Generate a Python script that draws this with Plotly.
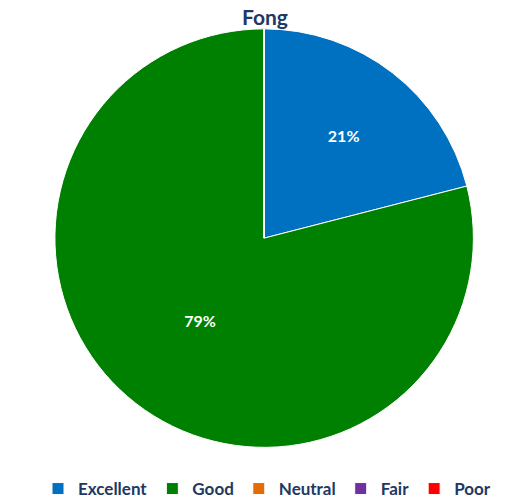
import plotly.graph_objects as go

categories = ["Excellent", "Good", "Neutral", "Fair", "Poor"]
values = [21, 79, 0, 0, 0]
colors = ["#0070C0", "#008000", "#E36C09", "#7030A0", "#FF0000"]

total = sum(values)
labels_text = [f"{round(v / total * 100)}%" if v > 0 else "" for v in values]

fig = go.Figure(
    go.Pie(
        labels=categories,
        values=values,
        text=labels_text,
        textinfo="text",
        textposition="inside",
        insidetextorientation="horizontal",
        textfont=dict(color="white", size=16, family="Lato", weight="bold"),
        marker=dict(colors=colors, line=dict(color="white", width=1)),
        sort=False,
        direction="clockwise",
        rotation=0,
        domain=dict(x=[0.089, 0.900], y=[0.116, 0.958]),
        hoverinfo="label+percent",
    )
)

fig.update_layout(
    width=518,
    height=499,
    margin=dict(l=0, r=0, t=0, b=0),
    paper_bgcolor="white",
    plot_bgcolor="white",
    title=dict(
        text="Fong",
        x=0.496,
        xanchor="center",
        y=0.995,
        yanchor="top",
        yref="container",
        pad=dict(t=0, b=0),
        font=dict(family="Lato", size=21, color="#203864", weight="bold"),
    ),
    legend=dict(
        orientation="h",
        x=0.5,
        xanchor="center",
        y=-0.005,
        yanchor="bottom",
        font=dict(family="Lato", size=17, color="#203864", weight="bold"),
        itemwidth=30,
        traceorder="normal",
    ),
    showlegend=True,
)

fig.write_html("out.html")
